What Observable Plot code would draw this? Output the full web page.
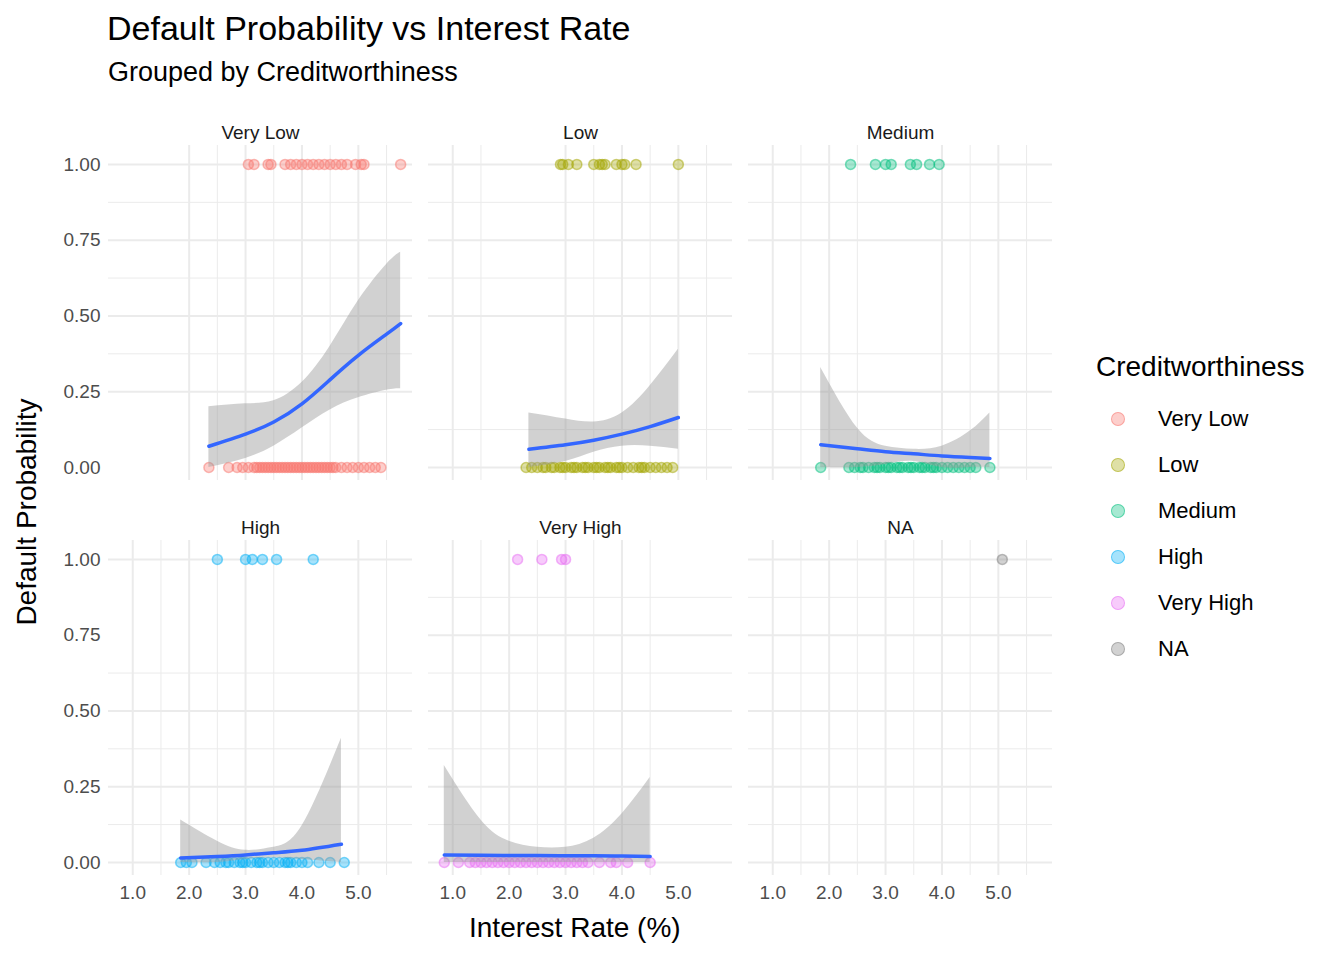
<!DOCTYPE html>
<html>
<head>
<meta charset="utf-8">
<script src="https://cdn.jsdelivr.net/npm/d3@7"></script>
<script src="https://cdn.jsdelivr.net/npm/@observablehq/plot@0.6"></script>
<style>
  body { margin: 0; background: #fff; font-family: "Liberation Sans", Arial, sans-serif; }
  #wrap { position: relative; width: 1344px; height: 960px; }
  .abs { position: absolute; color: #000; white-space: nowrap; }
  #chart { position: absolute; left: 0; top: 105px; }
  .leg { position: absolute; left: 1111px; font-size: 22px; display: flex; align-items: center; transform: translateY(-50%); }
  .dot { width: 12px; height: 12px; border-radius: 50%; margin-right: 33px; }
</style>
</head>
<body>
<div id="wrap">
  <div class="abs" style="left:107px;top:9px;font-size:34px;">Default Probability vs Interest Rate</div>
  <div class="abs" style="left:108px;top:57px;font-size:27px;">Grouped by Creditworthiness</div>
  <div id="chart"></div>
  <div class="abs" style="left:469px;top:912px;font-size:28px;">Interest Rate (%)</div>
  <div class="abs" style="left:27px;top:512px;font-size:28px;transform:translate(-50%,-50%) rotate(-90deg);">Default Probability</div>
  <div class="abs" style="left:1096px;top:351px;font-size:28px;">Creditworthiness</div>
  <div id="legend"></div>
</div>
<script>
const groups = ["Very Low", "Low", "Medium", "High", "Very High", "NA"];
const colors = ["#F8766D", "#A3A500", "#00BF7D", "#00B0F6", "#E76BF3", "#7f7f7f"];

// interest rates of loans that defaulted (y = 1)
const defaulted = {
  "Very Low": [3.05, 3.15, 3.4, 3.45, 3.7, 3.8, 3.9, 4.0, 4.1, 4.2, 4.3, 4.4, 4.5, 4.6, 4.7, 4.8, 4.95, 5.05, 5.1, 5.75],
  "Low": [2.91, 2.95, 3.05, 3.2, 3.5, 3.6, 3.65, 3.7, 3.9, 4.0, 4.05, 4.25, 5.0],
  "Medium": [2.38, 2.82, 3.0, 3.1, 3.44, 3.55, 3.78, 3.95],
  "High": [2.5, 3.0, 3.12, 3.3, 3.55, 4.2],
  "Very High": [2.15, 2.58, 2.93, 3.0],
  "NA": [5.07]
};
// interest rates of loans that did not default (y = 0)
const repaid = {
  "Very Low": [2.35, 2.7, 2.85, 2.95, 3.05, 3.15, 3.2, 3.25, 3.3, 3.35, 3.4, 3.45, 3.5, 3.55, 3.6, 3.65, 3.7, 3.75, 3.8, 3.85, 3.9, 3.95, 4.0, 4.05, 4.1, 4.15, 4.2, 4.25, 4.3, 4.35, 4.4, 4.45, 4.5, 4.55, 4.6, 4.7, 4.8, 4.9, 5.0, 5.1, 5.2, 5.3, 5.4],
  "Low": [2.3, 2.4, 2.5, 2.6, 2.65, 2.75, 2.8, 2.9, 2.95, 3.0, 3.1, 3.15, 3.2, 3.3, 3.35, 3.4, 3.5, 3.55, 3.6, 3.7, 3.75, 3.8, 3.9, 3.95, 4.0, 4.1, 4.2, 4.3, 4.35, 4.4, 4.5, 4.6, 4.7, 4.8, 4.9],
  "Medium": [1.85, 2.35, 2.45, 2.55, 2.6, 2.7, 2.8, 2.85, 2.9, 3.0, 3.05, 3.1, 3.2, 3.25, 3.3, 3.4, 3.45, 3.5, 3.6, 3.65, 3.7, 3.8, 3.85, 3.9, 4.0, 4.1, 4.2, 4.3, 4.4, 4.5, 4.6, 4.85],
  "High": [1.85, 1.95, 2.05, 2.3, 2.45, 2.55, 2.65, 2.7, 2.8, 2.9, 2.95, 3.0, 3.1, 3.2, 3.25, 3.3, 3.4, 3.5, 3.6, 3.7, 3.75, 3.8, 3.9, 4.0, 4.1, 4.3, 4.5, 4.75],
  "Very High": [0.85, 1.1, 1.3, 1.4, 1.5, 1.6, 1.7, 1.8, 1.9, 2.0, 2.1, 2.2, 2.3, 2.4, 2.5, 2.6, 2.7, 2.8, 2.9, 3.0, 3.1, 3.2, 3.3, 3.4, 3.6, 3.8, 3.9, 4.1, 4.5],
  "NA": []
};

// fitted logistic curves and confidence band
const fitX = {
  "Very Low": [2.35, 3, 3.5, 4, 4.5, 5, 5.5, 5.75],
  "Low": [2.35, 3, 3.5, 4, 4.5, 5],
  "Medium": [1.85, 2.5, 3, 3.5, 4, 4.5, 4.85],
  "High": [1.85, 2.5, 3, 3.5, 4, 4.7],
  "Very High": [0.85, 1.5, 2, 2.5, 3, 3.5, 4, 4.5]
};
const fitY = {
  "Very Low": [0.07, 0.11, 0.15, 0.21, 0.29, 0.37, 0.44, 0.475],
  "Low": [0.06, 0.075, 0.09, 0.11, 0.135, 0.165],
  "Medium": [0.075, 0.062, 0.052, 0.045, 0.038, 0.033, 0.03],
  "High": [0.015, 0.02, 0.025, 0.032, 0.04, 0.06],
  "Very High": [0.025, 0.024, 0.023, 0.023, 0.022, 0.022, 0.021, 0.02]
};
const fitLo = {
  "Very Low": [0.0, 0.03, 0.07, 0.13, 0.19, 0.23, 0.255, 0.26],
  "Low": [0.0, 0.02, 0.05, 0.07, 0.07, 0.06],
  "Medium": [0.0, 0.0, 0.01, 0.02, 0.0, 0.0, 0.0],
  "High": [0.0, 0.0, 0.01, 0.015, 0.01, 0.0],
  "Very High": [0, 0, 0, 0, 0, 0, 0, 0]
};
const fitHi = {
  "Very Low": [0.20, 0.21, 0.22, 0.28, 0.40, 0.55, 0.67, 0.71],
  "Low": [0.18, 0.16, 0.15, 0.18, 0.27, 0.39],
  "Medium": [0.33, 0.13, 0.07, 0.06, 0.07, 0.12, 0.18],
  "High": [0.14, 0.07, 0.04, 0.05, 0.12, 0.41],
  "Very High": [0.32, 0.14, 0.07, 0.05, 0.05, 0.08, 0.16, 0.28]
};
const xMajor = [1, 2, 3, 4, 5];
const xMinor = [1.5, 2.5, 3.5, 4.5, 5.5];
const yMajor = [0, 0.25, 0.5, 0.75, 1];
const yMinor = [0.125, 0.375, 0.625, 0.875];

const pos = g => { const i = groups.indexOf(g); return {col: i % 3, row: Math.floor(i / 3)}; };

const points = [];
groups.forEach(g => {
  const p = pos(g);
  defaulted[g].forEach(x => points.push({g, x, y: 1, ...p}));
  repaid[g].forEach(x => points.push({g, x, y: 0, ...p}));
});
const fits = [];
Object.keys(fitX).forEach(g => {
  const p = pos(g);
  fitX[g].forEach((x, i) => fits.push({g, x, y: fitY[g][i], lo: fitLo[g][i], hi: fitHi[g][i], ...p}));
});
const panels = groups.map(g => ({g, ...pos(g)}));

const chart = Plot.plot({
  width: 1060,
  height: 855,
  marginLeft: 108,
  marginRight: 8,
  marginTop: 40,
  marginBottom: 85,
  style: {fontFamily: "Liberation Sans, Arial, sans-serif", fontSize: "19px", color: "#4d4d4d"},
  facet: {data: panels, x: "col", y: "row", label: null},
  fx: {domain: [0, 1, 2], axis: null, paddingInner: 0.05, paddingOuter: 0},
  fy: {domain: [0, 1], axis: null, paddingInner: 0.152, paddingOuter: 0},
  x: {domain: [0.57, 5.96], ticks: xMajor, tickSize: 0, tickPadding: 10, label: null},
  y: {domain: [-0.043, 1.0625], ticks: yMajor, tickFormat: d3.format(".2f"), tickSize: 0, tickPadding: 8, label: null},
  marks: [
    Plot.ruleX(xMinor, {stroke: "#ebebeb", strokeWidth: 1, facet: "exclude"}),
    Plot.ruleY(yMinor, {stroke: "#ebebeb", strokeWidth: 1, facet: "exclude"}),
    Plot.ruleX(xMajor, {stroke: "#ebebeb", strokeWidth: 2, facet: "exclude"}),
    Plot.ruleY(yMajor, {stroke: "#ebebeb", strokeWidth: 2, facet: "exclude"}),
    Plot.text(panels, {text: "g", frameAnchor: "top", dy: -20, fill: "#1a1a1a", fontSize: 19}),
    Plot.dot(points, {fx: "col", fy: "row", x: "x", y: "y", r: 5, fill: d => colors[groups.indexOf(d.g)], stroke: d => colors[groups.indexOf(d.g)], fillOpacity: 0.35, strokeOpacity: 0.5}),
    Plot.areaY(fits, {fx: "col", fy: "row", x: "x", y1: "lo", y2: "hi", z: "g", fill: "#999999", fillOpacity: 0.45, curve: "natural"}),
    Plot.line(fits, {fx: "col", fy: "row", x: "x", y: "y", z: "g", stroke: "#3366FF", strokeWidth: 3.5, curve: "natural"})
  ]
});
document.getElementById("chart").append(chart);

const leg = document.getElementById("legend");
groups.forEach((g, i) => {
  const d = document.createElement("div");
  d.className = "leg";
  d.style.top = (419 + i * 46) + "px";
  d.innerHTML = `<span class="dot" style="background:${colors[i]}59;border:1px solid ${colors[i]}80"></span>${g}`;
  leg.append(d);
});
</script>
</body>
</html>
